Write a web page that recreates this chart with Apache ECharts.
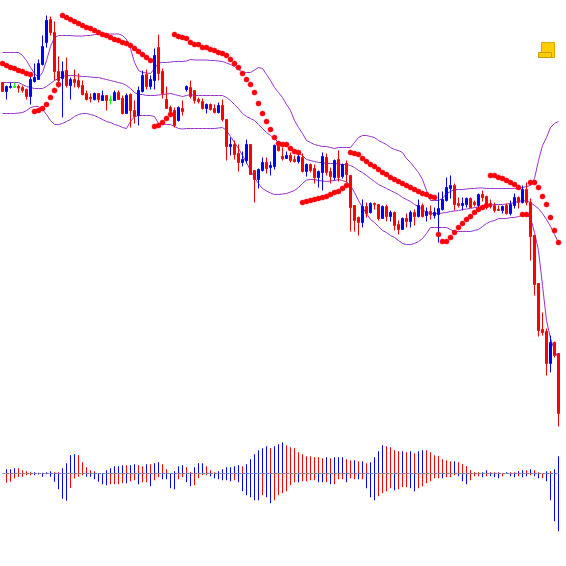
<!DOCTYPE html>
<html><head><meta charset="utf-8">
<style>html,body{margin:0;padding:0;background:#fff}#c{width:566px;height:566px}</style>
<script src="https://cdn.jsdelivr.net/npm/echarts@6/dist/echarts.min.js"></script>
</head><body><div id="c"></div>
<script>
// Price levels are read from the picture on a unitless scale that grows downward (the chart has no labels).
const bodyTop=[82,86,86,86,86,87,89,79,77,63,46,20,19,32,71,71,70,79,79,80,85,93,97,93,93,95,95,99,92,92,98,95,94,110,90,75,74,79,55,47,71,99,107,110,107,108,86,87,90,99,101,104,104,108,105,105,119,144,144,153,159,144,144,170,169,162,162,165,145,146,156,155,155,159,156,157,164,164,168,171,156,157,171,160,159,164,163,175,205,217,206,206,203,203,204,206,206,212,212,224,218,218,212,212,205,205,211,211,212,208,199,187,185,185,203,203,198,198,202,194,194,196,203,205,209,206,205,204,197,197,189,189,202,235,283,329,331,342,342,353];
const bodyBottom=[91,91,87,87,87.5,90,96,96,81,79,64,42,32,71,80,78,85,85,82,86,94,99,98,99,99,100,100,100,100,99,113,113,110,116,115,91,86,86,80,73,93,108,111,125,120,111,89,96,100,101,108,108,109,112,112,119,146,146,154,162,162,160,174,179,179,170,168,167,166,150,158,158,160,161,161,171,171,170,177,177,172,172,176,177,177,176,174,207,220,222,222,213,212,204,218,218,216,216,225,229,229,221,221,216,216,216,215,214,215,214,209,200,188,204,205,205,204,207,204,205,197,207,206,210,210,210,213,213,205,202,202,202,236,284,330,332,363,363,355,413];
const wickTop=[82,85,82,82,84,85,88,76,63,59,35,15,16,21,56,61,57,77,69,73,80,90,93,92,93,90,95,95,90,90,95,93,93,100,86,70,69,75,48,34,68,86,105,107,106,100,85,80,90,97,98,103,103,104,102,99,119,137,140,144,151,139,144,170,168,157,157,161,144,143,147,151,152,155,152,153,163,163,164,170,152,153,167,159,150,163,160,175,205,216,199,202,202,202,204,205,204,210,211,220,217,213,210,209,199,203,207,205,207,192,191,177,175,183,197,197,197,197,200,193,190,195,199,202,205,205,203,200,193,196,185,182,198,235,283,312,328,335,341,353];
const wickBottom=[91,99,88,87,92,92,99,104,82,79,65,47,35,80,87,117,87,99,87,88,95,100,102,100,102,100,110,104,100,99,114,113,127,123,125,92,89,89,89,80,98,108,115,127,121,115,91,98,103,103,109,113,110,113,113,121,160,155,159,171,166,163,174,202,188,171,173,175,169,151,160,158,162,162,163,172,176,172,183,187,190,175,183,180,181,178,182,231,231,235,227,217,213,209,220,218,221,221,230,234,229,227,227,225,217,217,221,219,218,242,210,201,198,210,207,210,207,207,206,207,201,209,208,212,210,213,214,215,208,208,203,205,260,295,336,335,375,372,357,426];
const direction=["rbbgrrrbbb","bbrrrbrbrr","rrrbrbrgbr","rbrrbbrbbr","rrrrbrbrrr","rbrrbrrbrr","bbrrbbrbbr","rbrrbrbrrb","brrbrbrrrr","brbrrbrbrr","brbrbrbrbb","bbbrrbbrrb","rrrrrbrbbr","brrrrrrbrr"].join('');
const bandUpper=[52,52,52,52,52,55,60,67,73,77,72,60,46,37,35,35,35,35,35.5,35.5,35.5,35,35,34,34,34,33.5,33.5,33.5,33.5,35,39,48,62,70,72,72.5,73,68,62.5,62,62,61.5,61,61,61,60.5,59,59.5,59.5,59.5,59.5,60,60,60.5,61,62.5,64,66,69,71.5,72,72,69.5,67,68,74,80,87,92,97,104,110,120,127,133,140,142,144,145,146,146,147,148,147,147,147,147,142,137,135,135,136,137,140,142,144,147,149,150,152,158,162,167,172,179,190,200,200,200,198,193,191,189,189,189,188.5,188,188,187.5,187.5,188,188,188,188,188,188,188,188,188,187,186,185,178,160,145,137,127,123,121];
const bandMiddle=[82,82,82,82,82,84,86,87,88,88,88,86,83,80,78,76,75,75,75,75.5,76,76,76.5,77,77,78,79,80,81,82,83,85,88,92,94,94,95,95,95,94.5,94,93.5,93,94,95,96,95,94,95,95,95,95,95,95,95,95,97,100,104,108,113,116,118,120,124,128,132,135,138,142,144,146,148,151,153,155,159,160,161,162,162,163,163,163,163.5,164,164,165,167,170,172,175,178,181,184,186,188,190,192,194,197,199,201,204,206,209,212,213,213,213,212.5,212,211,210.5,210,209,208.5,208,207,206.5,206,205,204.5,204,204,204,203.5,203,202,201,200,200.5,202,205,208,213,219,226,234,242];
const bandLower=[113,113,113,113,112.5,112,110,107,106,106,109,114,120,124,124,123,121,119,116,114,113,113,114,115,117,119,121,122,124,125,127,128,121,116,115,115,115,115,116,123,123.5,124,124,126,128,128.5,128,128,128,128,128,128,128,128,127.5,127,130,136,142,148,155,162,170,177,183,188,190.5,192.5,194,194,193.5,193,191.5,190,187,183,179.5,179,179,180,180.5,181,180.5,180,179,180,181.5,185,192,200,207,213,219,222,226,230,232,235,237,240,243,244,244,243,241,238,233,227,227,227,227,227,229,231,231,231,231,231,230,229,226,223,221,220,218,218,218,217,217,216,215,215,217,232,250,285,320,338,350,358];
const sar=[63,65,67,68,70,71,73,74,111,110,108,104,97,90,84,15,17,19,21,23,25,27,28,30,32,34,35,37,39,40,42,43,45,48,51,54,57,60,126,125,122,118,114,34,36,37,38,42,44,44,47,47,49,50,52,53,55,59,63,67,73,79,84,92,103,113,121,129,137,143,144,144,148,151,152,202,201,200,199,198,197,196,194,192,191,188,185,152,153,154,158,161,164,166,169,172,174,177,179,181,183,185,187,189,191,193,194,196,197,234,241,241,237,232,227,223,219,216,212,209,207,205,175,175,177,178,180,182,184,187,214,214,182,182,187,196,204,217,230,242];
const oscUp=[0,13,13,16,16,10,7,4,4,2,2,4,7,4,4,16,31,55,58,55,34,19,10,7,1,0,10,16,22,22,25,25,25,28,25,22,28,28,31,34,28,13,0,7,22,25,19,4,19,31,31,22,10,4,7,13,19,19,22,25,22,28,43,58,70,76,82,76,82,88,94,85,79,76,64,58,52,52,49,49,46,49,46,49,49,49,43,40,40,37,37,31,34,49,67,85,82,79,70,67,67,64,67,61,67,70,70,64,55,52,43,40,37,37,34,28,22,10,4,4,4,10,4,4,4,0,4,4,4,7,10,10,13,10,4,0,7,7,13,52];
const oscDown=[0,-28,-25,-15,-10,-10,-5,-5,-5,-3,-10,-2,-10,-25,-47,-76,-82,-43,-14,-10,-5,-10,-10,-17,-25,-32,-35,-32,-32,-32,-29,-29,-23,-20,-32,-26,-26,-38,-20,-11,-17,-17,-44,-47,-17,-11,-26,-38,-35,-14,-5,-5,-8,-14,-17,-20,-20,-23,-20,-26,-53,-65,-71,-80,-80,-65,-71,-89,-80,-65,-59,-53,-35,-26,-26,-23,-23,-20,-20,-26,-26,-26,-32,-32,-17,-17,-26,-14,-17,-17,-17,-44,-71,-80,-68,-59,-53,-44,-50,-47,-41,-41,-44,-53,-44,-38,-29,-23,-14,-14,-14,-11,-11,-5,-8,-23,-32,-20,-8,-8,-11,-8,-8,-11,-14,-8,0,-8,-11,-8,-11,-8,-5,-8,-14,-14,-23,-80,-143,-173];
const oscUpDir=["rbbbrrrrbb","bbbrrbbbbr","rrrrbbbbbb","brbbrrbrbb","rrbbbbrrbb","brrrbbbbbb","rbbbbbbrbb","brrrrrrrrr","rbrbbbrrbr","brbbbbrrrr","brbrbbrrrr","rrrbrrrrrr","bbrrrrbrrb","brbrrrbrbb"].join('');
const oscDownDir=["rrrrrrrrbb","bbbbbbbrrr","rbbbbbbrrr","rbrrbrrbrr","bbbbrrbbrr","rrbbbbbbrb","bbbbbrbbrr","rrrrbrrrrb","brbrrrbrrb","rbbbrrrrbr","rrbbrrrrrr","brrrbbbrrr","brbbbrbbbr","bbrbbrbbbb"].join('');
const categories=bodyTop.map((_,i)=>String(i));
const RED='#ff0000',BLUE='#0000ff',GREEN='#00ff00',BAND='#9932cc';
const colorOf=c=>c==='b'?BLUE:c==='g'?GREEN:RED;

const candles=bodyTop.map((t,i)=>{
  const d=direction[i];
  const rising=d!=='r';
  const col=colorOf(d);
  return {value:[rising?bodyBottom[i]:t,rising?t:bodyBottom[i],wickTop[i],wickBottom[i]],
    itemStyle:{color:col,color0:col,borderColor:col,borderColor0:col,borderColorDoji:col,borderWidth:1}};
});
const bandSeries=(name,data)=>({name,type:'line',data,xAxisIndex:0,yAxisIndex:0,symbol:'none',smooth:false,silent:true,z:1,
  lineStyle:{color:BAND,width:1}});
const oscBar=(name,vals,dirs)=>({name,type:'bar',xAxisIndex:1,yAxisIndex:1,barWidth:1,barGap:'-100%',z:2,silent:true,
  data:vals.map((v,i)=>({value:v,itemStyle:{color:colorOf(dirs[i])}}))});

const chart=echarts.init(document.getElementById('c'),null,{renderer:'canvas'});
chart.setOption({
  animation:false,backgroundColor:'#ffffff',
  grid:[{left:0.5,top:0.5,width:560,height:435},{left:0.5,top:435.5,width:560,height:100}],
  xAxis:[{type:'category',gridIndex:0,data:categories,show:false},{type:'category',gridIndex:1,data:categories,show:false}],
  yAxis:[{type:'value',gridIndex:0,inverse:true,min:0,max:435,show:false},{type:'value',gridIndex:1,min:-186,max:114,show:false}],
  series:[
    bandSeries('Upper band',bandUpper),bandSeries('Middle band',bandMiddle),bandSeries('Lower band',bandLower),
    {name:'Price',type:'candlestick',xAxisIndex:0,yAxisIndex:0,barWidth:2,data:candles,z:3,silent:true},
    {name:'SAR',type:'scatter',xAxisIndex:0,yAxisIndex:0,data:sar.map((v,i)=>[i,v]),symbolSize:5,z:4,silent:true,
      itemStyle:{color:RED,opacity:1,borderColor:'rgba(255,0,20,0.55)',borderWidth:1}},
    oscBar('Oscillator high',oscUp,oscUpDir),oscBar('Oscillator low',oscDown,oscDownDir),
    {name:'Zero',type:'line',xAxisIndex:1,yAxisIndex:1,data:oscUp.map(()=>0),symbol:'none',z:5,silent:true,
      lineStyle:{color:'#778899',width:1,type:[3,1]}}
  ],
  graphic:[
    {type:'rect',z:10,shape:{x:541.5,y:42.5,width:13,height:15},style:{fill:'#ffcc00',stroke:'#d9a900',lineWidth:1}},
    {type:'rect',z:11,shape:{x:538.5,y:52.5,width:13,height:5},style:{fill:'#ffcc00',stroke:'#c89a10',lineWidth:1}}
  ]
});
</script></body></html>
